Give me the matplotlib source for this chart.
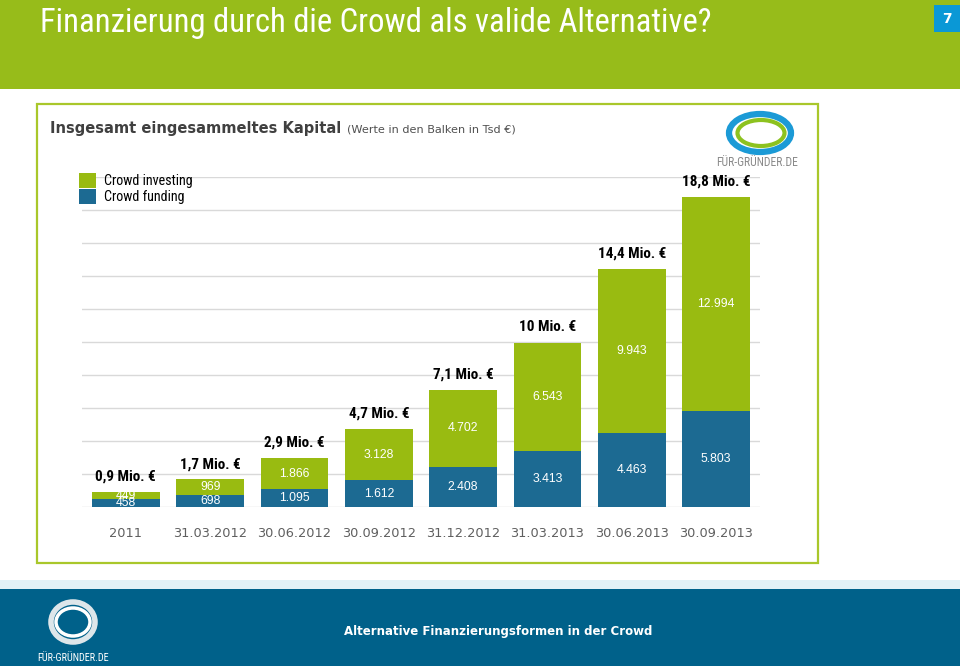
import matplotlib
matplotlib.use("Agg")
import matplotlib.pyplot as plt
from matplotlib.patches import Rectangle, Ellipse
from matplotlib import font_manager as fm
import numpy as np

# ---------------- data ----------------
categories = ["2011", "31.03.2012", "30.06.2012", "30.09.2012",
              "31.12.2012", "31.03.2013", "30.06.2013", "30.09.2013"]
crowd_funding = [458, 698, 1095, 1612, 2408, 3413, 4463, 5803]
crowd_investing = [449, 969, 1866, 3128, 4702, 6543, 9943, 12994]
funding_labels = ["458", "698", "1.095", "1.612", "2.408", "3.413", "4.463", "5.803"]
investing_labels = ["449", "969", "1.866", "3.128", "4.702", "6.543", "9.943", "12.994"]
total_labels = ["0,9 Mio. €", "1,7 Mio. €", "2,9 Mio. €", "4,7 Mio. €",
                "7,1 Mio. €", "10 Mio. €", "14,4 Mio. €", "18,8 Mio. €"]
series_names = ["Crowd investing", "Crowd funding"]

# ---------------- fonts ----------------
_entries = fm.fontManager.ttflist
_names = {f.name for f in _entries}
NARROW_KW = {"family": ["DejaVu Sans"]}
for cand in ["Liberation Sans Narrow", "DejaVu Sans Condensed", "Roboto Condensed",
             "Open Sans Condensed", "Noto Sans Condensed", "Lato Condensed"]:
    if cand in _names:
        NARROW_KW = {"family": [cand, "DejaVu Sans"]}
        break
else:
    for f in _entries:
        if str(f.stretch) in ("condensed", "semi-condensed", "extra-condensed",
                              "ultra-condensed", "75", "87.5", "62.5"):
            NARROW_KW = {"family": [f.name, "DejaVu Sans"], "stretch": "condensed"}
            break

# ---------------- style ----------------
W, H = 960, 666
GREEN_HDR = "#97BC1A"
GREEN_BAR = "#99BB11"
BLUE_BAR = "#1C6A92"
FOOT_BLUE = "#00618A"

fig = plt.figure(figsize=(W / 100, H / 100), dpi=100)
fig.patch.set_facecolor("white")


def fx(x):
    return x / W


def fy(y):
    return 1 - y / H


def rect(x0, y0, x1, y1, **kw):
    fig.add_artist(Rectangle((fx(x0), fy(y1)), fx(x1) - fx(x0), fy(y0) - fy(y1),
                             transform=fig.transFigure, **kw))


renderer = fig.canvas.get_renderer()


def fit_width(t, target_px):
    bb = t.get_window_extent(renderer=renderer)
    if bb.width > 0:
        t.set_fontsize(t.get_fontsize() * target_px / bb.width)
    return t.get_fontsize()


# header
rect(0, 0, W, 89, facecolor=GREEN_HDR, edgecolor="none", zorder=0)
t_title = fig.text(fx(40), fy(23), "Finanzierung durch die Crowd als valide Alternative?",
                   color="white", fontsize=22, va="center", ha="left", **NARROW_KW)
fit_width(t_title, 672)
rect(934, 5, 960, 32, facecolor="#0A98D6", edgecolor="none", zorder=0)
fig.text(fx(947), fy(19), "7", color="white", fontsize=10, fontweight="bold",
         ha="center", va="center")

# footer
rect(0, 580, W, 589, facecolor="#E3F1F6", edgecolor="none", zorder=0)
rect(0, 589, W, H, facecolor=FOOT_BLUE, edgecolor="none", zorder=0)
t_foot = fig.text(fx(498), fy(632), "Alternative Finanzierungsformen in der Crowd",
                  color="white", fontsize=9.5, fontweight="bold", ha="center", va="center")
fit_width(t_foot, 312)
fig.add_artist(Ellipse((fx(73), fy(622)), fx(44), 40 / H, transform=fig.transFigure,
                       facecolor="none", edgecolor="#DDE6EA", lw=4, zorder=1))
fig.add_artist(Ellipse((fx(73), fy(622)), fx(34), 28 / H, transform=fig.transFigure,
                       facecolor="none", edgecolor="white", lw=2.5, zorder=1))
t_fl = fig.text(fx(73), fy(658), "FÜR-GRÜNDER.DE", color="white", fontsize=5.5,
                ha="center", va="center", **NARROW_KW)
fit_width(t_fl, 72)

# chart frame
rect(37, 104, 818, 563, facecolor="white", edgecolor="#A9C72B", lw=1.6, zorder=0)
t_ct = fig.text(fx(50), fy(129), "Insgesamt eingesammeltes Kapital", color="#404040",
                fontsize=10, fontweight="bold", ha="left", va="center")
fit_width(t_ct, 290)
t_sub = fig.text(fx(347), fy(130), "(Werte in den Balken in Tsd €)", color="#505050",
                 fontsize=7.3, ha="left", va="center")
fit_width(t_sub, 168)

# top-right logo
fig.add_artist(Ellipse((fx(760), fy(133)), fx(62), 38 / H, transform=fig.transFigure,
                       facecolor="none", edgecolor="#1B9AD6", lw=4.5, zorder=1))
fig.add_artist(Ellipse((fx(761), fy(133)), fx(47), 26 / H, transform=fig.transFigure,
                       facecolor="none", edgecolor="#8DC21F", lw=3, zorder=1))
t_lg = fig.text(fx(757), fy(162), "FÜR-GRÜNDER.DE", color="#8A8A8A", fontsize=7,
                ha="center", va="center", **NARROW_KW)
fit_width(t_lg, 82)

# ---------------- chart axes ----------------
ax = fig.add_axes([fx(82), fy(507), fx(760) - fx(82), (507 - 177) / H])
ax.set_zorder(5)
ax.set_facecolor("none")
x = np.arange(len(categories))
b_fund = ax.bar(x, crowd_funding, width=0.8, color=BLUE_BAR, label=series_names[1], zorder=2)
b_inv = ax.bar(x, crowd_investing, width=0.8, bottom=crowd_funding, color=GREEN_BAR,
               label=series_names[0], zorder=2)

ax.set_xlim(-0.52, len(categories) - 0.48)
ax.set_ylim(0, 20000)
ax.set_yticks(np.arange(0, 20001, 2000))
ax.grid(axis="y", color="#D9D9D9", lw=1, zorder=0)
ax.set_axisbelow(True)
for s in ax.spines.values():
    s.set_visible(False)
ax.tick_params(axis="y", left=False, labelleft=False)
ax.tick_params(axis="x", bottom=False, pad=11, labelsize=9.3, labelcolor="#5F5F5F")
ax.set_xticks(x, labels=categories)

# common size for totals, fitted on the first label
probe = fig.text(0, 0, total_labels[0], fontsize=9.5, fontweight="bold", **NARROW_KW)
total_fs = fit_width(probe, 61)
probe.remove()

for i in range(len(categories)):
    f = crowd_funding[i]
    v = crowd_investing[i]
    ax.text(x[i], f / 2, funding_labels[i], color="white", fontsize=8.8,
            family=["Liberation Sans", "DejaVu Sans"], ha="center", va="center", zorder=3)
    ax.text(x[i], f + v / 2, investing_labels[i], color="white", fontsize=8.8,
            family=["Liberation Sans", "DejaVu Sans"], ha="center", va="center", zorder=3)
    ax.annotate(total_labels[i], (x[i], f + v), xytext=(0, 6), textcoords="offset points",
                ha="center", va="bottom", fontsize=total_fs, fontweight="bold",
                color="black", zorder=3, **NARROW_KW)

leg = fig.legend(handles=[b_inv, b_fund], labels=series_names, loc="upper left",
                 bbox_to_anchor=(fx(79), fy(173)), frameon=False, borderpad=0,
                 borderaxespad=0, handlelength=1.2, handleheight=1.2,
                 handletextpad=0.55, labelspacing=0.1,
                 prop=dict(size=10.2, **NARROW_KW))
leg.set_zorder(6)

fig.savefig("out.png", dpi=100, facecolor=fig.get_facecolor())
